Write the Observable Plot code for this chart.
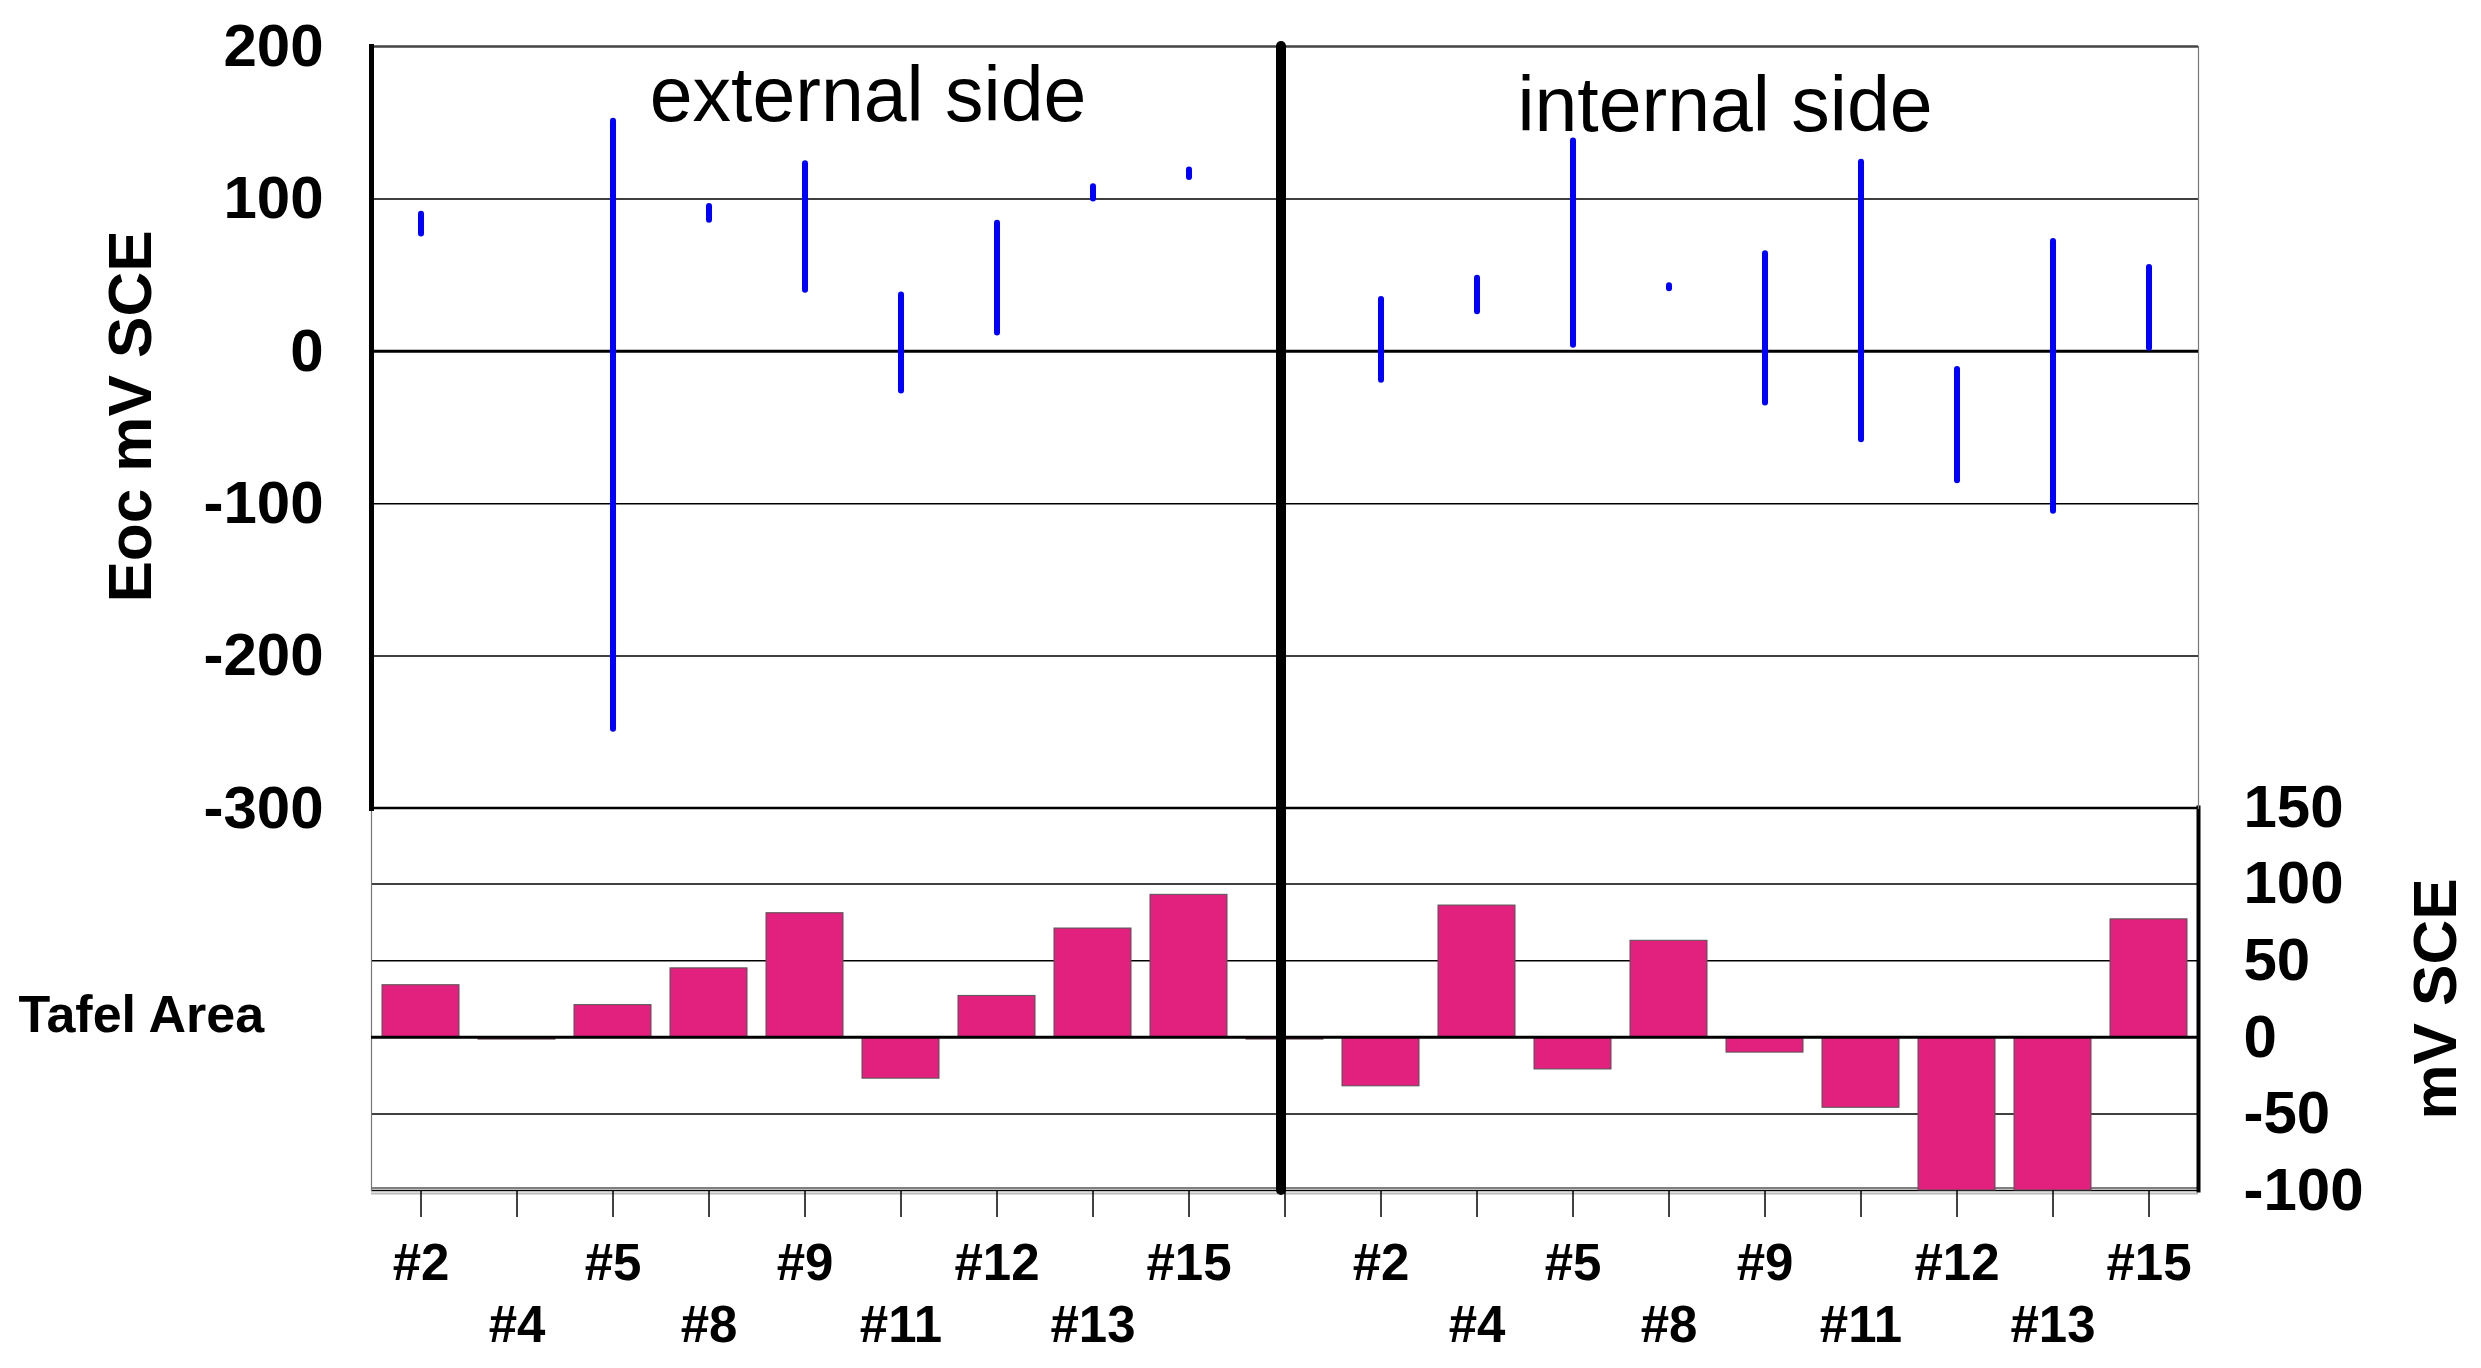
<!DOCTYPE html>
<html><head><meta charset="utf-8">
<script src="https://cdn.jsdelivr.net/npm/d3@7"></script>
<script src="https://cdn.jsdelivr.net/npm/@observablehq/plot@0.6"></script>
<style>
html,body{margin:0;padding:0;background:#fff;}
#chart{position:relative;width:2481px;height:1368px;background:#fff;overflow:hidden;}
#chart svg{position:absolute;left:0;}
</style></head><body><div id="chart"></div>
<script>
// ---- data ----
const specimens = ["#2","#4","#5","#8","#9","#11","#12","#13","#15"];
const sides = ["external side","internal side"];
const upperRow = ["#2","#5","#9","#12","#15"];
const lowerRow = ["#4","#8","#11","#13"];
const eocTicks = [200,100,0,-100,-200,-300];
const tafelTicks = [150,100,50,0,-50,-100];
const axisTitleEoc = "Eoc mV SCE";
const axisTitleTafel = "Tafel Area";
const axisTitleRight = "mV SCE";

// Eoc range (low / high) per specimen
const eocExtLow  = [77, null, -248, 86, 40, -26, 12, 100, 114];
const eocExtHigh = [90, null,  151, 95, 123, 37, 84, 108, 119];
const eocIntLow  = [-19, 26,   4, 41, -34, -58, -85, -105, 2];
const eocIntHigh = [ 34, 48, 138, 43,  64, 124, -12,  72, 55];

// Tafel area bars
const tafelExt = [34, -1.5, 21, 45, 81, -27, 27, 71, 93];
const tafelGap = -1.5;
const tafelInt = [-32, 86, -21, 63, -10, -46, -100, -100, 77];

// ---- derived tables ----
const extKeys = specimens.map(s => "ext " + s);
const intKeys = specimens.map(s => "int " + s);
const keys = [...extKeys, "gap", ...intKeys];
const labelOf = k => k === "gap" ? "" : k.split(" ")[1];
const upperKeys = keys.filter(k => upperRow.includes(labelOf(k)));
const lowerKeys = keys.filter(k => lowerRow.includes(labelOf(k)));
const numFmt = d => String(d); // plain hyphen-minus as in the original

const eocData = [];
specimens.forEach((s, i) => {
  if (eocExtLow[i] != null) eocData.push({key: extKeys[i], low: eocExtLow[i], high: eocExtHigh[i]});
  if (eocIntLow[i] != null) eocData.push({key: intKeys[i], low: eocIntLow[i], high: eocIntHigh[i]});
});
const tafelData = [
  ...specimens.map((s, i) => ({key: extKeys[i], value: tafelExt[i]})),
  {key: "gap", value: tafelGap},
  ...specimens.map((s, i) => ({key: intKeys[i], value: tafelInt[i]}))
];

const font = '"Liberation Sans", Arial, sans-serif';
const xOpts = {type: "band", domain: keys, paddingInner: 0.2, paddingOuter: 0.1, axis: null};
const style = {background: "transparent", fontFamily: font, overflow: "visible", maxWidth: "none"};

const topPlot = Plot.plot({
  width: 2481, height: 812,
  marginTop: 46, marginBottom: 4, marginLeft: 371, marginRight: 283,
  style,
  x: xOpts,
  y: {domain: [-300, 200], axis: null},
  marks: [
    Plot.ruleY(eocTicks.filter(v => v !== 0 && v !== 200), {stroke: "#000", strokeWidth: 1.5}),
    Plot.ruleY(eocTicks.filter(v => v === 200), {stroke: "#444", strokeWidth: 2.5}),
    Plot.frame({anchor: "right", stroke: "#777", strokeWidth: 1.2}),
    Plot.frame({anchor: "left", stroke: "#000", strokeWidth: 5}),
    Plot.ruleY([0], {stroke: "#000", strokeWidth: 3}),
    Plot.ruleX(eocData, {x: "key", y1: "low", y2: "high", stroke: "#0000ff", strokeWidth: 6, strokeLinecap: "round"}),
    Plot.ruleX(["gap"], {x: d => d, stroke: "#000", strokeWidth: 10, strokeLinecap: "round", dx: -4}),
    Plot.axisY({ticks: eocTicks, anchor: "left", tickSize: 0, tickPadding: 48, tickFormat: numFmt, fontSize: 60, fontWeight: "bold", label: null}),
    Plot.text([axisTitleEoc], {text: d => d, frameAnchor: "left", textAnchor: "middle", lineAnchor: "middle", rotate: -90, dx: -240, dy: -11, fontSize: 62, fontWeight: "bold", fill: "#000"}),
    Plot.text([sides[0]], {text: d => d, frameAnchor: "top", lineAnchor: "bottom", dx: -417, dy: 74, fontSize: 77, fill: "#000"}),
    Plot.text([sides[1]], {text: d => d, frameAnchor: "top", lineAnchor: "bottom", dx: 440, dy: 84, fontSize: 77, fill: "#000"})
  ]
});
topPlot.style.top = "0px";

const bottomPlot = Plot.plot({
  width: 2481, height: 608,
  marginTop: 47, marginBottom: 178, marginLeft: 371, marginRight: 283,
  style,
  x: xOpts,
  y: {domain: [-100, 150], axis: null},
  marks: [
    Plot.ruleY(tafelTicks.filter(v => v !== 0), {stroke: "#000", strokeWidth: 1.5}),
    Plot.ruleY(tafelTicks.filter(v => v === -100), {stroke: "#000", strokeWidth: 1.2, dy: -2.5}),
    Plot.ruleY(tafelTicks.filter(v => v === -100), {stroke: "#bbb", strokeWidth: 2, dy: 3}),
    Plot.frame({anchor: "left", stroke: "#777", strokeWidth: 1.2}),
    Plot.barY(tafelData, {x: "key", y: "value", fill: "#e2207e", stroke: "#555", strokeWidth: 1}),
    Plot.ruleY([0], {stroke: "#000", strokeWidth: 3}),
    Plot.frame({anchor: "right", stroke: "#000", strokeWidth: 4}),
    Plot.ruleX(["gap"], {x: d => d, stroke: "#000", strokeWidth: 10, strokeLinecap: "round", dx: -4}),
    Plot.axisX({ticks: keys, anchor: "bottom", tickSize: 27, tickFormat: () => "", label: null, strokeWidth: 1.5}),
    Plot.axisX({ticks: upperKeys, anchor: "bottom", tickSize: 0, tickPadding: 53, tickFormat: labelOf, fontSize: 51, fontWeight: "bold", label: null}),
    Plot.axisX({ticks: lowerKeys, anchor: "bottom", tickSize: 0, tickPadding: 115, tickFormat: labelOf, fontSize: 51, fontWeight: "bold", label: null}),
    Plot.axisY({ticks: tafelTicks, anchor: "right", tickSize: 0, tickPadding: 45, tickFormat: numFmt, fontSize: 60, fontWeight: "bold", label: null}),
    Plot.text([axisTitleRight], {text: d => d, frameAnchor: "right", textAnchor: "middle", lineAnchor: "middle", rotate: -90, dx: 238, dy: 0, fontSize: 62, fontWeight: "bold", fill: "#000"}),
    Plot.text([axisTitleTafel], {text: d => d, frameAnchor: "left", textAnchor: "start", dx: -353, dy: 16, fontSize: 52, fontWeight: "bold", fill: "#000"})
  ]
});
bottomPlot.style.top = "760px";

const chart = document.getElementById("chart");
chart.appendChild(bottomPlot);
chart.appendChild(topPlot);
</script>
</body></html>
